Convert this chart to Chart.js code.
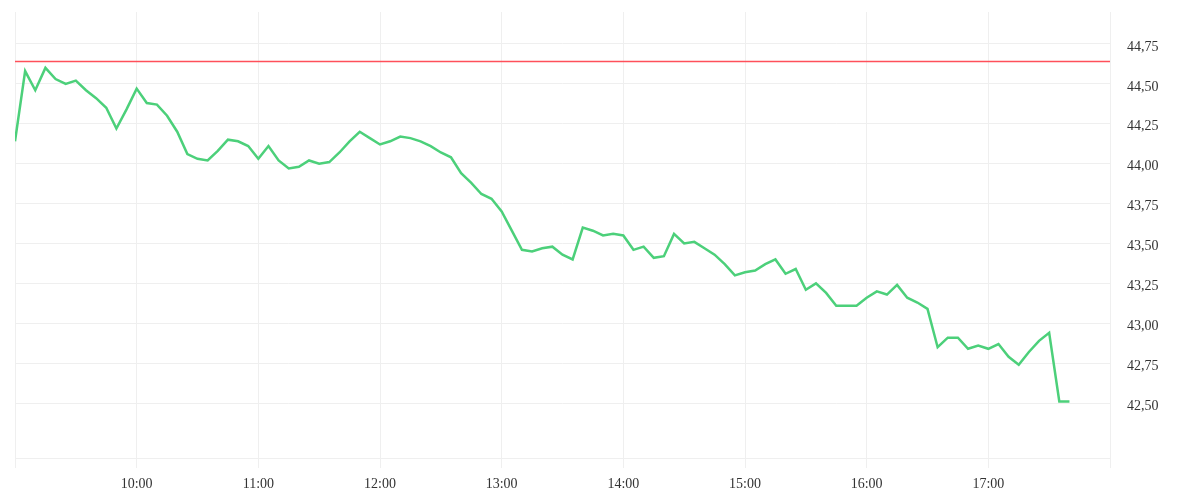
<!DOCTYPE html>
<html>
<head>
<meta charset="utf-8">
<script src="https://cdn.jsdelivr.net/npm/chart.js@4"></script>
<style>
  html, body { margin: 0; padding: 0; background: #fff; }
  #wrap { width: 1200px; height: 500px; }
</style>
</head>
<body>
<div id="wrap"><canvas id="priceChart" width="1200" height="500"></canvas></div>
<script>
// 5-minute prices, 09:00 .. 17:40
const times = [
  '09:00','09:05','09:10','09:15','09:20','09:25','09:30','09:35','09:40','09:45','09:50','09:55',
  '10:00','10:05','10:10','10:15','10:20','10:25','10:30','10:35','10:40','10:45','10:50','10:55',
  '11:00','11:05','11:10','11:15','11:20','11:25','11:30','11:35','11:40','11:45','11:50','11:55',
  '12:00','12:05','12:10','12:15','12:20','12:25','12:30','12:35','12:40','12:45','12:50','12:55',
  '13:00','13:05','13:10','13:15','13:20','13:25','13:30','13:35','13:40','13:45','13:50','13:55',
  '14:00','14:05','14:10','14:15','14:20','14:25','14:30','14:35','14:40','14:45','14:50','14:55',
  '15:00','15:05','15:10','15:15','15:20','15:25','15:30','15:35','15:40','15:45','15:50','15:55',
  '16:00','16:05','16:10','16:15','16:20','16:25','16:30','16:35','16:40','16:45','16:50','16:55',
  '17:00','17:05','17:10','17:15','17:20','17:25','17:30','17:35','17:40'
];
const prices = [
  44.14, 44.58, 44.46, 44.60, 44.53, 44.50, 44.52, 44.46, 44.41, 44.35, 44.22, 44.34,
  44.47, 44.38, 44.37, 44.30, 44.20, 44.06, 44.03, 44.02, 44.08, 44.15, 44.14, 44.11,
  44.03, 44.11, 44.02, 43.97, 43.98, 44.02, 44.00, 44.01, 44.07, 44.14, 44.20, 44.16,
  44.12, 44.14, 44.17, 44.16, 44.14, 44.11, 44.07, 44.04, 43.94, 43.88, 43.81, 43.78,
  43.70, 43.58, 43.46, 43.45, 43.47, 43.48, 43.43, 43.40, 43.60, 43.58, 43.55, 43.56,
  43.55, 43.46, 43.48, 43.41, 43.42, 43.56, 43.50, 43.51, 43.47, 43.43, 43.37, 43.30,
  43.32, 43.33, 43.37, 43.40, 43.31, 43.34, 43.21, 43.25, 43.19, 43.11, 43.11, 43.11,
  43.16, 43.20, 43.18, 43.24, 43.16, 43.13, 43.09, 42.85, 42.91, 42.91, 42.84, 42.86,
  42.84, 42.87, 42.79, 42.74, 42.82, 42.89, 42.94, 42.51, 42.51
];
const prevClose = 44.64;
const xTicks = ['09:00','10:00','11:00','12:00','13:00','14:00','15:00','16:00','17:00','18:00'];
const yTicks = [42.50, 42.75, 43.00, 43.25, 43.50, 43.75, 44.00, 44.25, 44.50, 44.75];

const toMin = t => { const [h, m] = t.split(':').map(Number); return h * 60 + m; };
const fromMin = v => String(Math.floor(v / 60)).padStart(2, '0') + ':' + String(v % 60).padStart(2, '0');

const xMin = toMin(xTicks[0]);
const xMax = toMin(xTicks[xTicks.length - 1]);
const gridColor = '#efefef';
const tickFont = { family: 'Liberation Serif', size: 14 };

new Chart(document.getElementById('priceChart'), {
  type: 'line',
  data: {
    datasets: [{
      data: times.map((t, i) => ({ x: toMin(t), y: prices[i] })),
      borderColor: '#4cd07a',
      borderWidth: 2.5,
      pointRadius: 0,
      tension: 0
    }, {
      data: [{ x: xMin, y: prevClose }, { x: xMax, y: prevClose }],
      borderColor: 'rgb(255, 80, 90)',
      borderWidth: 1.5,
      pointRadius: 0
    }]
  },
  options: {
    responsive: false,
    animation: false,
    layout: { padding: { left: 15, top: 12 } },
    plugins: { legend: { display: false }, tooltip: { enabled: false } },
    scales: {
      x: {
        type: 'linear',
        min: xMin,
        max: xMax,
        afterBuildTicks: s => { s.ticks = xTicks.map(t => ({ value: toMin(t) })); },
        afterFit: s => { s.height = 42; s.paddingLeft = 0; s.paddingRight = 0; },
        grid: { color: gridColor, tickLength: 10 },
        border: { color: gridColor },
        ticks: {
          color: '#333',
          font: tickFont,
          padding: 8,
          maxRotation: 0,
          callback: v => (v === xMin || v === xMax) ? '' : fromMin(v)
        }
      },
      y: {
        position: 'right',
        min: 42.156,
        max: 44.95,
        afterBuildTicks: s => { s.ticks = yTicks.map(v => ({ value: v })); },
        afterFit: s => { s.width = 90; s.paddingTop = 0; s.paddingBottom = 0; },
        grid: { color: gridColor, drawTicks: false },
        border: { color: gridColor },
        ticks: {
          color: '#333',
          font: tickFont,
          padding: 17,
          labelOffset: 3,
          callback: v => v.toFixed(2).replace('.', ',')
        }
      }
    }
  }
});
</script>
</body>
</html>
